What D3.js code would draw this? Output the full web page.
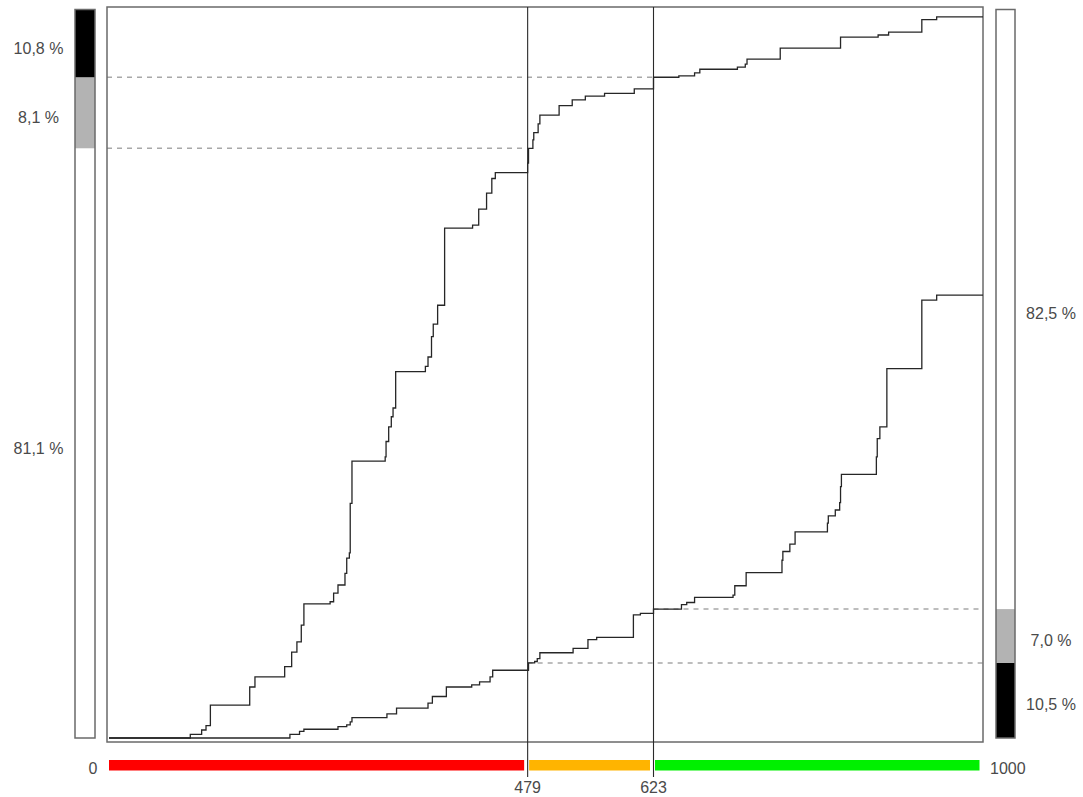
<!DOCTYPE html>
<html>
<head>
<meta charset="utf-8">
<script src="https://cdn.jsdelivr.net/npm/d3@7"></script>
<style>
  html, body { margin: 0; padding: 0; background: #fff; }
  svg { display: block; }
  text { font-family: "Liberation Sans", Arial, sans-serif; font-size: 16px; fill: #4a4a4a; }
</style>
</head>
<body>
<svg id="chart" width="1083" height="797"></svg>
<script>
// ---------------- DATA ----------------
const scoreDomain = [0, 1000];
const thresholds = [479, 623];
const bandEdges = [0, 479, 623, 1000];
const tickValues = [0, 479, 623, 1000];
const tickLabels = ["0", "479", "623", "1000"];

// upper cumulative curve (score, cumulative %)
const topScores = [0, 93, 106, 111, 116, 161, 167, 201, 209, 215, 220, 223, 253, 257, 262, 270, 272, 275, 276, 278,
  316, 317, 320, 323, 325, 328, 362, 365, 369, 371, 376, 384, 416, 423, 432, 438, 442, 479, 480, 485, 486, 491, 493,
  515, 530, 545, 567, 601, 623, 652, 670, 676, 719, 728, 730, 768, 837, 880, 892, 930, 947, 1000];
const topPct = [0, 0.5, 1.1, 1.7, 4.5, 7.0, 8.4, 9.8, 11.8, 13.2, 15.5, 18.4, 18.7, 19.9, 21.0, 22.6, 24.7, 25.4, 32.2, 38.0,
  38.6, 40.7, 42.7, 44.1, 45.3, 50.3, 51.0, 52.3, 55.1, 56.8, 59.4, 70.0, 70.4, 72.6, 74.8, 76.8, 77.6, 78.9, 80.95, 82.1, 83.1, 84.3, 85.5,
  86.8, 87.6, 88.1, 88.5, 89.1, 90.7, 90.9, 91.3, 91.8, 92.1, 92.5, 93.2, 94.7, 96.2, 96.5, 96.9, 98.6, 99.0, 99.0];

// lower cumulative curve (score, cumulative %)
const lowScores = [0, 207, 218, 223, 262, 272, 276, 278, 318, 329, 365, 370, 386, 415, 424, 436, 439, 480, 487, 490, 493,
  531, 548, 558, 600, 608, 623, 655, 661, 670, 714, 716, 729, 770, 771, 779, 785, 822, 823, 831, 836, 837, 838,
  878, 879, 882, 890, 930, 947, 1000];
const lowPct = [0, 0.5, 0.9, 1.2, 1.55, 1.8, 2.2, 2.8, 3.3, 4.1, 4.8, 5.7, 7.0, 7.3, 7.7, 8.4, 9.3, 10.3, 10.5, 10.9, 11.7,
  12.3, 13.5, 13.8, 16.9, 17.1, 17.7, 18.3, 18.6, 19.3, 19.6, 20.9, 22.7, 24.4, 25.6, 26.6, 28.3, 29.5, 30.5, 31.3, 32.3, 34.5, 36.2,
  38.6, 41.1, 42.7, 50.7, 60.1, 60.8, 60.8];

// side bars: segment boundaries (%) and their labels (bottom to top)
const leftBarBreaks = [0, 80.95, 90.7, 100];
const leftBarLabels = ["81,1 %", "8,1 %", "10,8 %"];
const rightBarBreaks = [0, 10.3, 17.7, 100];
const rightBarLabels = ["10,5 %", "7,0 %", "82,5 %"];

// ---------------- STYLE ----------------
const segFills = ["#ffffff", "#b3b3b3", "#000000"];
const leftSegFills = ["#ffffff", "#b3b3b3", "#000000"];
const rightSegFills = ["#000000", "#b3b3b3", "#ffffff"];
const bandColors = ["#ff0000", "#ffb400", "#00f000"];

// ---------------- CHART ----------------
const svg = d3.select("#chart");
const x = d3.scaleLinear().domain(scoreDomain).range([109, 983]);
const y = d3.scaleLinear().domain([0, 100]).range([738, 9.5]);

const frameL = x(0) - 2, frameR = x(1000), frameT = y(100) - 2.5, frameB = y(0) + 4;

// dashed guide lines
const dashG = svg.append("g").attr("stroke", "#a8a8a8").attr("stroke-width", 1.4).attr("stroke-dasharray", "5,5");
// left: at top-curve values of thresholds, from frame left to the threshold line
[[leftBarBreaks[1], thresholds[0]], [leftBarBreaks[2], thresholds[1]]].forEach(([v, t]) => {
  dashG.append("line").attr("x1", frameL).attr("x2", x(t)).attr("y1", y(v)).attr("y2", y(v));
});
[[rightBarBreaks[1], thresholds[0]], [rightBarBreaks[2], thresholds[1]]].forEach(([v, t]) => {
  dashG.append("line").attr("x1", x(t)).attr("x2", frameR).attr("y1", y(v)).attr("y2", y(v));
});

// frame
svg.append("rect")
  .attr("x", frameL).attr("y", frameT)
  .attr("width", frameR - frameL).attr("height", frameB - frameT)
  .attr("fill", "none").attr("stroke", "#6a6a6a").attr("stroke-width", 1.5);

// threshold lines
svg.append("g").selectAll("line").data(thresholds).join("line")
  .attr("x1", d => x(d)).attr("x2", d => x(d))
  .attr("y1", frameT).attr("y2", 777)
  .attr("stroke", "#2a2a2a").attr("stroke-width", 1.1);

// curves
const line = d3.line().x(d => x(d[0])).y(d => y(d[1])).curve(d3.curveStepAfter);
const topData = topScores.map((s, i) => [s, topPct[i]]);
const lowData = lowScores.map((s, i) => [s, lowPct[i]]);
[topData, lowData].forEach(dat => {
  svg.append("path").datum(dat).attr("d", line)
    .attr("fill", "none").attr("stroke", "#262626").attr("stroke-width", 1.3);
});

// side bars
function sideBar(x0, w, breaks, fills, labels, labelX, offset) {
  const g = svg.append("g");
  for (let i = 0; i < breaks.length - 1; i++) {
    const yTop = y(breaks[i + 1]), yBot = y(breaks[i]);
    g.append("rect").attr("x", x0).attr("y", yTop).attr("width", w).attr("height", yBot - yTop)
      .attr("fill", fills[i]).attr("stroke", "none");
    g.append("text").attr("x", labelX).attr("y", (yTop + yBot) / 2 + offset)
      .attr("text-anchor", "middle").text(labels[i]);
  }
  g.append("rect").attr("x", x0).attr("y", y(100)).attr("width", w).attr("height", y(0) - y(100))
    .attr("fill", "none").attr("stroke", "#6a6a6a").attr("stroke-width", 1.5);
}
sideBar(75, 20, leftBarBreaks, leftSegFills, leftBarLabels, 38.5, 10.5);
sideBar(996, 19, rightBarBreaks, rightSegFills, rightBarLabels, 1051, 10);

// colour band along the score axis
for (let i = 0; i < bandEdges.length - 1; i++) {
  const a = x(bandEdges[i]) + (i === 0 ? 0 : 1.5);
  const b = x(bandEdges[i + 1]) - 3.5;
  svg.append("rect").attr("x", a).attr("y", 760).attr("width", b - a).attr("height", 10.5)
    .attr("fill", bandColors[i]);
}

// tick labels
svg.append("text").attr("x", x(tickValues[0]) - 16).attr("y", 774).attr("text-anchor", "middle").text(tickLabels[0]);
svg.append("text").attr("x", x(tickValues[3]) + 7).attr("y", 774).attr("text-anchor", "start").text(tickLabels[3]);
[1, 2].forEach(i => {
  svg.append("text").attr("x", x(tickValues[i])).attr("y", 793).attr("text-anchor", "middle").text(tickLabels[i]);
});
</script>
</body>
</html>
